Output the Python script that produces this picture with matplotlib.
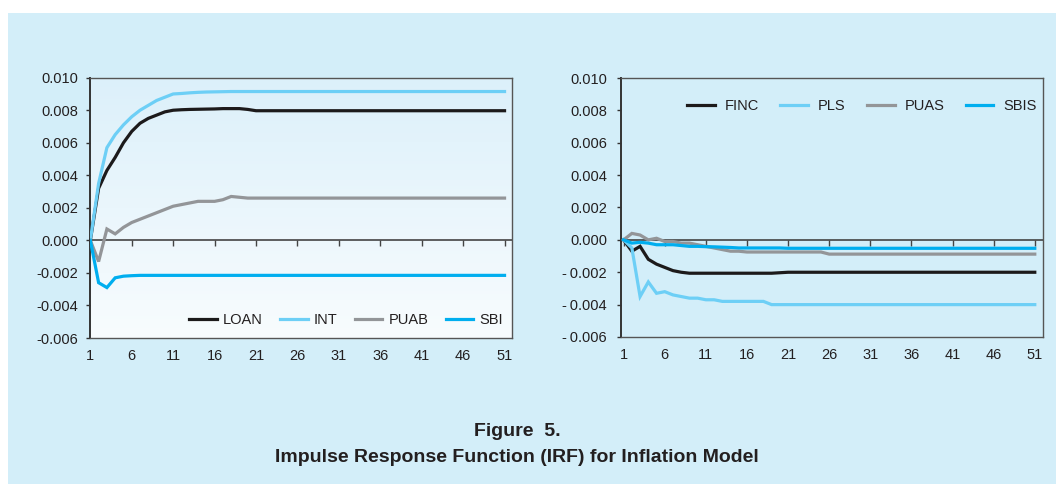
import matplotlib
matplotlib.use("Agg")
import matplotlib.pyplot as plt
import numpy as np
from matplotlib.patches import Rectangle
from matplotlib.colors import LinearSegmentedColormap

plt.rcParams['font.family'] = ['Liberation Sans', 'DejaVu Sans']

periods = list(range(1, 52))
x_ticks = [1, 6, 11, 16, 21, 26, 31, 36, 41, 46, 51]
y_ticks = [-0.006, -0.004, -0.002, 0.000, 0.002, 0.004, 0.006, 0.008, 0.010]
y_labels_left = ["-0.006", "-0.004", "-0.002", "0.000", "0.002", "0.004", "0.006", "0.008", "0.010"]
y_labels_right = ["-\u20090.006", "-\u20090.004", "-\u20090.002", "0.000", "0.002", "0.004", "0.006", "0.008", "0.010"]

loan = [0.0, 0.0032, 0.0043, 0.0051, 0.0060, 0.0067, 0.0072, 0.0075, 0.0077, 0.0079,
        0.0080, 0.00803, 0.00805, 0.00806, 0.00807, 0.00808, 0.0081, 0.0081, 0.0081, 0.00805,
        0.00797, 0.00797, 0.00797, 0.00797, 0.00797, 0.00797, 0.00797, 0.00797, 0.00797, 0.00797,
        0.00797, 0.00797, 0.00797, 0.00797, 0.00797, 0.00797, 0.00797, 0.00797, 0.00797, 0.00797,
        0.00797, 0.00797, 0.00797, 0.00797, 0.00797, 0.00797, 0.00797, 0.00797, 0.00797, 0.00797,
        0.00797]
intr = [0.0, 0.0035, 0.0057, 0.0065, 0.0071, 0.0076, 0.0080, 0.0083, 0.0086, 0.0088,
        0.0090, 0.00903, 0.00907, 0.0091, 0.00912, 0.00913, 0.00914, 0.00915, 0.00915, 0.00915,
        0.00915, 0.00915, 0.00915, 0.00915, 0.00915, 0.00915, 0.00915, 0.00915, 0.00915, 0.00915,
        0.00915, 0.00915, 0.00915, 0.00915, 0.00915, 0.00915, 0.00915, 0.00915, 0.00915, 0.00915,
        0.00915, 0.00915, 0.00915, 0.00915, 0.00915, 0.00915, 0.00915, 0.00915, 0.00915, 0.00915,
        0.00915]
puab = [0.0, -0.0013, 0.0007, 0.0004, 0.0008, 0.0011, 0.0013, 0.0015, 0.0017, 0.0019,
        0.0021, 0.0022, 0.0023, 0.0024, 0.0024, 0.0024, 0.0025, 0.0027, 0.00265, 0.0026,
        0.0026, 0.0026, 0.0026, 0.0026, 0.0026, 0.0026, 0.0026, 0.0026, 0.0026, 0.0026,
        0.0026, 0.0026, 0.0026, 0.0026, 0.0026, 0.0026, 0.0026, 0.0026, 0.0026, 0.0026,
        0.0026, 0.0026, 0.0026, 0.0026, 0.0026, 0.0026, 0.0026, 0.0026, 0.0026, 0.0026,
        0.0026]
sbi = [0.0, -0.0026, -0.0029, -0.0023, -0.0022, -0.00217, -0.00215, -0.00215, -0.00215, -0.00215,
       -0.00215, -0.00215, -0.00215, -0.00215, -0.00215, -0.00215, -0.00215, -0.00215, -0.00215, -0.00215,
       -0.00215, -0.00215, -0.00215, -0.00215, -0.00215, -0.00215, -0.00215, -0.00215, -0.00215, -0.00215,
       -0.00215, -0.00215, -0.00215, -0.00215, -0.00215, -0.00215, -0.00215, -0.00215, -0.00215, -0.00215,
       -0.00215, -0.00215, -0.00215, -0.00215, -0.00215, -0.00215, -0.00215, -0.00215, -0.00215, -0.00215,
       -0.00215]

finc = [0.0, -0.0007, -0.0004, -0.0012, -0.0015, -0.0017, -0.0019, -0.0020, -0.00206, -0.00206,
        -0.00206, -0.00206, -0.00206, -0.00206, -0.00206, -0.00206, -0.00206, -0.00206, -0.00206, -0.00203,
        -0.0020, -0.0020, -0.0020, -0.0020, -0.0020, -0.0020, -0.0020, -0.0020, -0.0020, -0.0020,
        -0.0020, -0.0020, -0.0020, -0.0020, -0.0020, -0.0020, -0.0020, -0.0020, -0.0020, -0.0020,
        -0.0020, -0.0020, -0.0020, -0.0020, -0.0020, -0.0020, -0.0020, -0.0020, -0.0020, -0.0020,
        -0.0020]
pls = [0.0, -0.0005, -0.0035, -0.0026, -0.0033, -0.0032, -0.0034, -0.0035, -0.0036, -0.0036,
       -0.0037, -0.0037, -0.0038, -0.0038, -0.0038, -0.0038, -0.0038, -0.0038, -0.0040, -0.0040,
       -0.0040, -0.0040, -0.0040, -0.0040, -0.0040, -0.0040, -0.0040, -0.0040, -0.0040, -0.0040,
       -0.0040, -0.0040, -0.0040, -0.0040, -0.0040, -0.0040, -0.0040, -0.0040, -0.0040, -0.0040,
       -0.0040, -0.0040, -0.0040, -0.0040, -0.0040, -0.0040, -0.0040, -0.0040, -0.0040, -0.0040,
       -0.0040]
puas = [0.0, 0.0004, 0.0003, 0.0, 0.0001, -0.0001, -0.0001, -0.0002, -0.0002, -0.0003,
        -0.0004, -0.0005, -0.0006, -0.0007, -0.0007, -0.00075, -0.00075, -0.00075, -0.00075, -0.00075,
        -0.00075, -0.00075, -0.00075, -0.00075, -0.00075, -0.00088, -0.00088, -0.00088, -0.00088, -0.00088,
        -0.00088, -0.00088, -0.00088, -0.00088, -0.00088, -0.00088, -0.00088, -0.00088, -0.00088, -0.00088,
        -0.00088, -0.00088, -0.00088, -0.00088, -0.00088, -0.00088, -0.00088, -0.00088, -0.00088, -0.00088,
        -0.00088]
sbis = [0.0, -0.0002, -0.00015, -0.0002, -0.0003, -0.0003, -0.0003, -0.00035, -0.0004, -0.0004,
        -0.00042, -0.00043, -0.00045, -0.00047, -0.0005, -0.0005, -0.0005, -0.0005, -0.0005, -0.0005,
        -0.00052, -0.00052, -0.00052, -0.00052, -0.00052, -0.00052, -0.00052, -0.00052, -0.00052, -0.00052,
        -0.00052, -0.00052, -0.00052, -0.00052, -0.00052, -0.00052, -0.00052, -0.00052, -0.00052, -0.00052,
        -0.00052, -0.00052, -0.00052, -0.00052, -0.00052, -0.00052, -0.00052, -0.00052, -0.00052, -0.00052,
        -0.00052]

left_series = [("LOAN", loan), ("INT", intr), ("PUAB", puab), ("SBI", sbi)]
right_series = [("FINC", finc), ("PLS", pls), ("PUAS", puas), ("SBIS", sbis)]
colors = ["#1c1a1b", "#6dcff6", "#939598", "#00aeef"]

BG = "#d3eef9"
TXT = "#231f20"

fig = plt.figure(figsize=(10.56, 4.84), dpi=100, facecolor="white")
fig.patches.append(Rectangle((8 / 1056, 0), 1 - 8 / 1056, 1 - 13 / 484,
                             transform=fig.transFigure, facecolor=BG,
                             edgecolor="none", zorder=-10))

ax1 = fig.add_axes([89.5 / 1056, 1 - 338 / 484, 422.5 / 1056, 260.3 / 484])
ax2 = fig.add_axes([621 / 1056, 1 - 337 / 484, 422 / 1056, 259 / 484])


def style_axes(ax, xlim, ylabels, ypad):
    ax.set_facecolor("none")
    ax.set_xlim(*xlim)
    ax.set_ylim(-0.006, 0.010)
    ax.set_yticks(y_ticks)
    ax.set_yticklabels(ylabels)
    ax.set_xticks(x_ticks)
    ax.set_xticklabels([str(t) for t in x_ticks])
    ax.tick_params(axis="x", length=0, pad=8, labelsize=10.5, labelcolor=TXT)
    ax.tick_params(axis="y", length=3, width=1.0, direction="out", pad=ypad,
                   labelsize=10.5, labelcolor=TXT, color="#333333")
    for s in ["top", "right", "bottom"]:
        ax.spines[s].set_color("#555555")
        ax.spines[s].set_linewidth(1.0)
    ax.spines["left"].set_color("#333333")
    ax.spines["left"].set_linewidth(1.4)
    sec = ax.secondary_xaxis(0, transform=ax.transData)
    sec.set_xticks(x_ticks)
    sec.tick_params(axis="x", direction="out", length=4, width=1.0,
                    color="#444444", labelbottom=False)
    sec.spines["bottom"].set_color("#444444")
    sec.spines["bottom"].set_linewidth(1.2)
    for s in ["top", "left", "right"]:
        sec.spines[s].set_visible(False)


style_axes(ax1, (0.9, 51.9), y_labels_left, 5)
style_axes(ax2, (0.68, 52.0), y_labels_right, 7)

# gradient background in left panel
cmap = LinearSegmentedColormap.from_list("bg", ["#f8fcfe", "#dcf0fa"])
grad = np.linspace(0, 1, 256).reshape(-1, 1)
ax1.imshow(grad, cmap=cmap, aspect="auto", extent=[0, 1, 0, 1],
           transform=ax1.transAxes, origin="lower", zorder=0)

for (name, vals), c in zip(left_series, colors):
    ax1.plot(periods, vals, color=c, lw=2.3, label=name, zorder=3,
             solid_joinstyle="miter")
for (name, vals), c in zip(right_series, colors):
    ax2.plot(periods, vals, color=c, lw=2.3, label=name, zorder=3,
             solid_joinstyle="miter")

ax1.set_xlim(0.9, 51.9)
ax1.set_ylim(-0.006, 0.010)

leg1 = ax1.legend(loc="center", bbox_to_anchor=(0.607, 0.069), ncol=4, frameon=False,
                  fontsize=10.5, handlelength=1.9, handletextpad=0.4, columnspacing=1.2,
                  borderaxespad=0, borderpad=0)
leg2 = ax2.legend(loc="center", bbox_to_anchor=(0.571, 0.892), ncol=4, frameon=False,
                  fontsize=10.5, handlelength=1.9, handletextpad=0.7, columnspacing=1.45,
                  borderaxespad=0, borderpad=0)
for leg in (leg1, leg2):
    for t in leg.get_texts():
        t.set_color(TXT)

fig.text(517 / 1056, 1 - 431 / 484, "Figure  5.", ha="center", va="center",
         fontsize=14, fontweight="bold", color=TXT)
fig.text(517 / 1056, 1 - 458 / 484, "Impulse Response Function (IRF) for Inflation Model",
         ha="center", va="center", fontsize=14, fontweight="bold", color=TXT)

fig.savefig("out.png", dpi=100, facecolor=fig.get_facecolor())
